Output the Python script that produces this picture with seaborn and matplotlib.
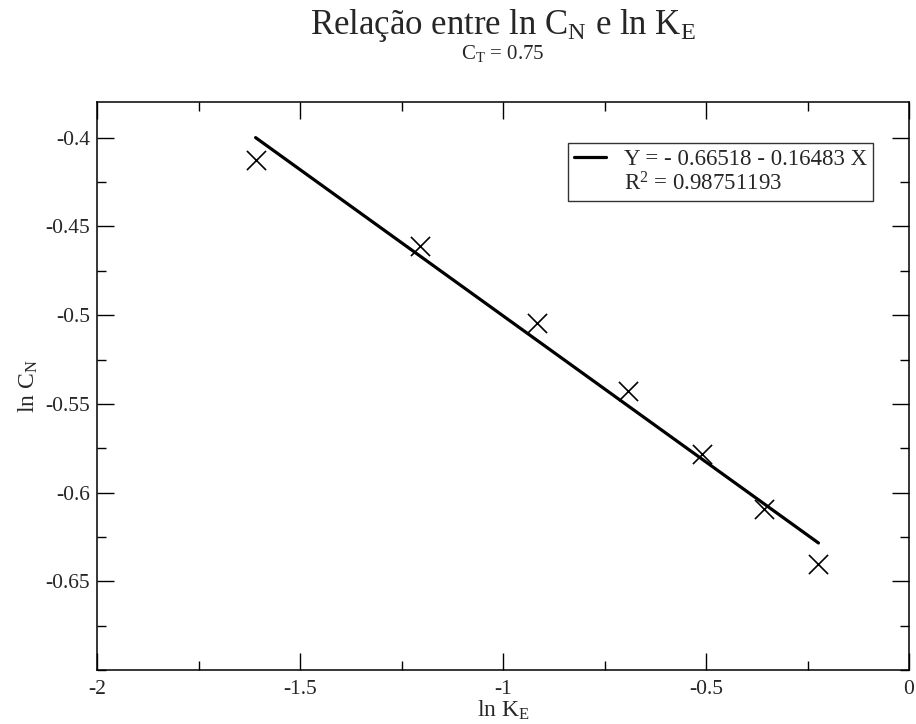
import numpy as np
import pandas as pd
import matplotlib
matplotlib.use("Agg")
import matplotlib.pyplot as plt
from matplotlib.lines import Line2D
from matplotlib.ticker import MultipleLocator
import seaborn as sns

# Measured points: ln K_E versus ln C_N
ln_ke = [-1.6094, -1.2040, -0.9163, -0.6931, -0.5108, -0.3567, -0.2231]
ln_cn = [-0.4128, -0.4612, -0.5044, -0.5428, -0.5785, -0.6095, -0.6402]

# Linear fit reported in the legend
intercept = -0.66518
slope = -0.16483
r_squared = 0.98751193

sns.set_theme(style="ticks")
plt.rcParams["font.family"] = ["Liberation Serif", "DejaVu Serif"]
plt.rcParams["mathtext.fontset"] = "custom"
plt.rcParams["mathtext.rm"] = "Liberation Serif"
plt.rcParams["mathtext.it"] = "Liberation Serif:italic"

pts = pd.DataFrame({"x": ln_ke, "y": ln_cn})
fit_x = np.array([min(ln_ke), max(ln_ke)])
fit = pd.DataFrame({"x": fit_x, "y": intercept + slope * fit_x})

fig = plt.figure(figsize=(9.16, 7.24), dpi=100)
ax = fig.add_axes([0.1059, 0.0746, 0.8865, 0.7841])

sns.lineplot(data=fit, x="x", y="y", ax=ax, color="black", linewidth=2.3)
sns.scatterplot(data=pts, x="x", y="y", ax=ax, marker="x", s=190,
                color="black", linewidth=1.2)

ax.set_xlim(-2, 0)
ax.set_ylim(-0.70, -0.38)
ax.xaxis.set_minor_locator(MultipleLocator(0.25))
ax.yaxis.set_minor_locator(MultipleLocator(0.025))
ax.set_xticks([-2, -1.5, -1, -0.5, 0])
ax.set_xticklabels(["-2", "-1.5", "-1", "-0.5", "0"])
ax.set_yticks([-0.65, -0.6, -0.55, -0.5, -0.45, -0.4])
ax.set_yticklabels(["-0.65", "-0.6", "-0.55", "-0.5", "-0.45", "-0.4"])

ax.tick_params(which="both", direction="in", top=True, right=True,
               color="black", width=1.0, labelsize=15.5)
ax.tick_params(which="major", length=12)
ax.tick_params(which="minor", length=6.5)
ax.tick_params(axis="y", pad=5)
ax.tick_params(axis="x", pad=7)
for s in ax.spines.values():
    s.set_color("black")
    s.set_linewidth(1.1)

ax.set_xlabel(r"ln K$_\mathrm{E}$", fontsize=17, labelpad=0)
ax.set_ylabel(r"ln C$_\mathrm{N}$", fontsize=17, labelpad=4)

handles = [Line2D([], [], color="black", linewidth=2.3),
           Line2D([], [], color="none")]
labels = ["Y = - 0.66518 - 0.16483 X", f"R$^2$ = {r_squared:.8f}"]
leg = ax.legend(handles, labels, loc="upper right",
                bbox_to_anchor=(0.9557, 0.928), fontsize=16.5, frameon=True,
                fancybox=False, edgecolor="black", handlelength=1.4,
                handletextpad=0.8, borderpad=0.25, labelspacing=0.1,
                borderaxespad=0)
leg.get_frame().set_linewidth(1.0)

cx = 0.1059 + 0.8865 / 2
fig.text(cx, 0.9530, r"Relação entre ln C$_\mathrm{N}$ e ln K$_\mathrm{E}$",
         ha="center", va="baseline", fontsize=25)
fig.text(cx, 0.9185, r"C$_\mathrm{T}$ = 0.75", ha="center", va="baseline",
         fontsize=15)

fig.savefig("out.png", dpi=100, facecolor="white")
